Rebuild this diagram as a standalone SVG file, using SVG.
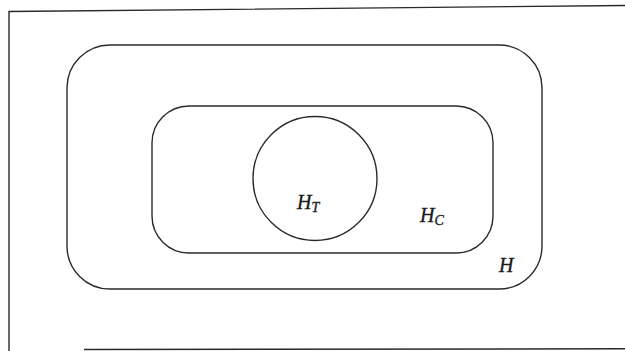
<svg xmlns="http://www.w3.org/2000/svg" width="625" height="351" viewBox="0 0 625 351">
<style>
.ln{fill:none;stroke:#2a2a2a;stroke-width:1.4}
.lb{font-family:"Liberation Serif","Times New Roman",serif;font-style:italic;fill:#1a1a1a;stroke:#1a1a1a;stroke-width:0.35}
.m{font-size:20px}
.s{font-size:14px}
</style>
<rect width="625" height="351" fill="#fff"/>
<g id="frame">
<polyline class="ln" points="625,5.5 9,11.5 9,351" stroke-width="1.8"/>
<line class="ln" x1="84" y1="349.5" x2="625" y2="348.8" stroke-width="1.8"/>
</g>
<g id="H">
<rect class="ln" x="67" y="45" width="475" height="244" rx="43" ry="43"/>
<text class="lb m" x="499" y="272">H</text>
</g>
<g id="HC">
<rect class="ln" x="152" y="106" width="341" height="147" rx="37" ry="37"/>
<text class="lb m" x="420" y="222">H<tspan class="s" dy="3">C</tspan></text>
</g>
<g id="HT">
<circle class="ln" cx="315" cy="178.5" r="62"/>
<text class="lb m" x="297" y="209">H<tspan class="s" dy="3">T</tspan></text>
</g>
<g id="connectors"/>
</svg>
